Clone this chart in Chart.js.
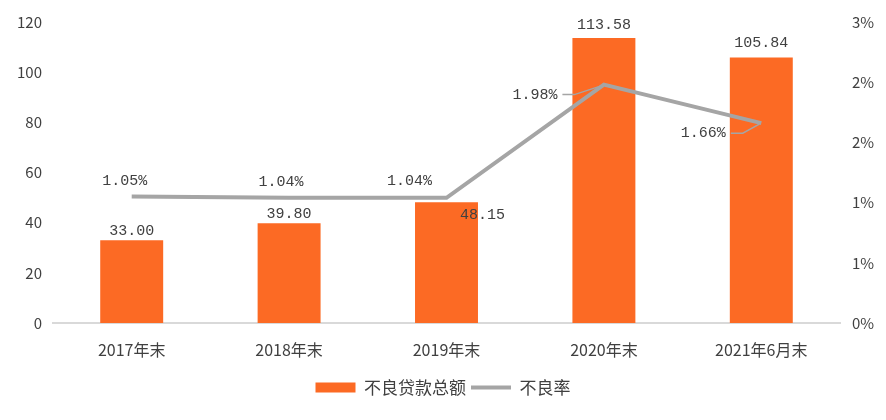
<!DOCTYPE html>
<html>
<head>
<meta charset="utf-8">
<script src="https://cdn.jsdelivr.net/npm/chart.js@4/dist/chart.umd.min.js"></script>
<style>
  html, body { margin: 0; padding: 0; background: #fff; }
  #wrap { width: 886px; height: 420px; }
</style>
</head>
<body>
<div id="wrap"><canvas id="myChart" width="886" height="420"></canvas></div>
<script>
// DATA
const categories = ['2017年末', '2018年末', '2019年末', '2020年末', '2021年6月末'];
const loanTotal = [33.00, 39.80, 48.15, 113.58, 105.84];
const nplRate = [1.05, 1.04, 1.04, 1.98, 1.66];
const leftTicks = [0, 20, 40, 60, 80, 100, 120];
const rightTicks = [0, 0.5, 1, 1.5, 2, 2.5];

// LABEL OFFSETS (pixels from the mark)
const barLabelShift = [[0, -9], [0, -9], [36, 13], [0, -13], [0, -14]];
const rateLabelShift = [[-7, -16], [-8, -16], [-37, -17], [-69, 10], [-58, 10]];
const leaderLines = [false, false, false, true, true];

const ORANGE = '#FC6A24';
const GREY = '#A5A5A5';
const TEXT = '#404040';
const sans = '"Noto Sans CJK SC", "Noto Sans", sans-serif';
const mono = '"Liberation Mono", monospace';

// DRAW VALUE LABELS
const valueLabels = {
    id: 'valueLabels',
    afterDatasetsDraw(chart) {
        const ctx = chart.ctx;
        ctx.save();
        ctx.font = '15px ' + mono;
        ctx.fillStyle = TEXT;
        ctx.textAlign = 'center';
        ctx.textBaseline = 'middle';
        chart.getDatasetMeta(0).data.forEach((bar, i) => {
            const s = barLabelShift[i];
            ctx.fillText(loanTotal[i].toFixed(2), bar.x + s[0], bar.y + s[1]);
        });
        chart.getDatasetMeta(1).data.forEach((pt, i) => {
            const s = rateLabelShift[i];
            const txt = nplRate[i].toFixed(2) + '%';
            const lx = pt.x + s[0], ly = pt.y + s[1];
            ctx.fillText(txt, lx, ly);
            if (leaderLines[i]) {
                const w = ctx.measureText(txt).width;
                const x0 = lx + w / 2 + 5;
                ctx.strokeStyle = GREY;
                ctx.lineWidth = 1.5;
                ctx.beginPath();
                ctx.moveTo(x0, ly);
                ctx.lineTo(x0 + 12, ly);
                ctx.lineTo(pt.x - 2, pt.y + 1);
                ctx.stroke();
            }
        });
        ctx.restore();
    }
};

const ctx = document.getElementById('myChart').getContext('2d');
const myChart = new Chart(ctx, {
    data: {
        labels: categories,
        datasets: [
            {
                type: 'bar',
                label: '不良贷款总额',
                data: loanTotal,
                backgroundColor: ORANGE,
                borderWidth: 0,
                categoryPercentage: 1,
                barPercentage: 0.4,
                yAxisID: 'y',
                order: 2,
                pointStyle: 'rect'
            },
            {
                type: 'line',
                label: '不良率',
                data: nplRate,
                borderColor: GREY,
                backgroundColor: GREY,
                borderWidth: 4,
                pointRadius: 0,
                tension: 0,
                yAxisID: 'y1',
                order: 1,
                pointStyle: 'line'
            }
        ]
    },
    options: {
        responsive: false,
        animation: false,
        layout: { padding: { top: 22, left: 0, right: 0, bottom: 14 } },
        plugins: {
            tooltip: { enabled: false },
            legend: {
                position: 'bottom',
                labels: {
                    usePointStyle: true,
                    pointStyleWidth: 40,
                    boxHeight: 10,
                    padding: 5,
                    color: TEXT,
                    font: { family: sans, size: 17 },
                    sort: (a, b) => a.datasetIndex - b.datasetIndex
                }
            }
        },
        scales: {
            x: {
                grid: { display: false, drawTicks: false },
                border: { color: '#D9D9D9', width: 2 },
                ticks: { color: TEXT, padding: 17, font: { family: sans, size: 16 } },
                afterFit: s => { s.height = 51; }
            },
            y: {
                position: 'left',
                min: 0, max: 120,
                grid: { display: false, drawTicks: false },
                border: { display: false },
                afterBuildTicks: s => { s.ticks = leftTicks.map(v => ({ value: v })); },
                ticks: { color: TEXT, padding: 11, font: { family: sans, size: 15 } },
                afterFit: s => { s.width = 53; }
            },
            y1: {
                position: 'right',
                min: 0, max: 2.5,
                grid: { display: false, drawTicks: false },
                border: { display: false },
                afterBuildTicks: s => { s.ticks = rightTicks.map(v => ({ value: v })); },
                ticks: {
                    color: TEXT, padding: 12, font: { family: sans, size: 15 },
                    callback: v => Math.round(v) + '%'
                },
                afterFit: s => { s.width = 46; }
            }
        }
    },
    plugins: [valueLabels]
});
</script>
</body>
</html>
